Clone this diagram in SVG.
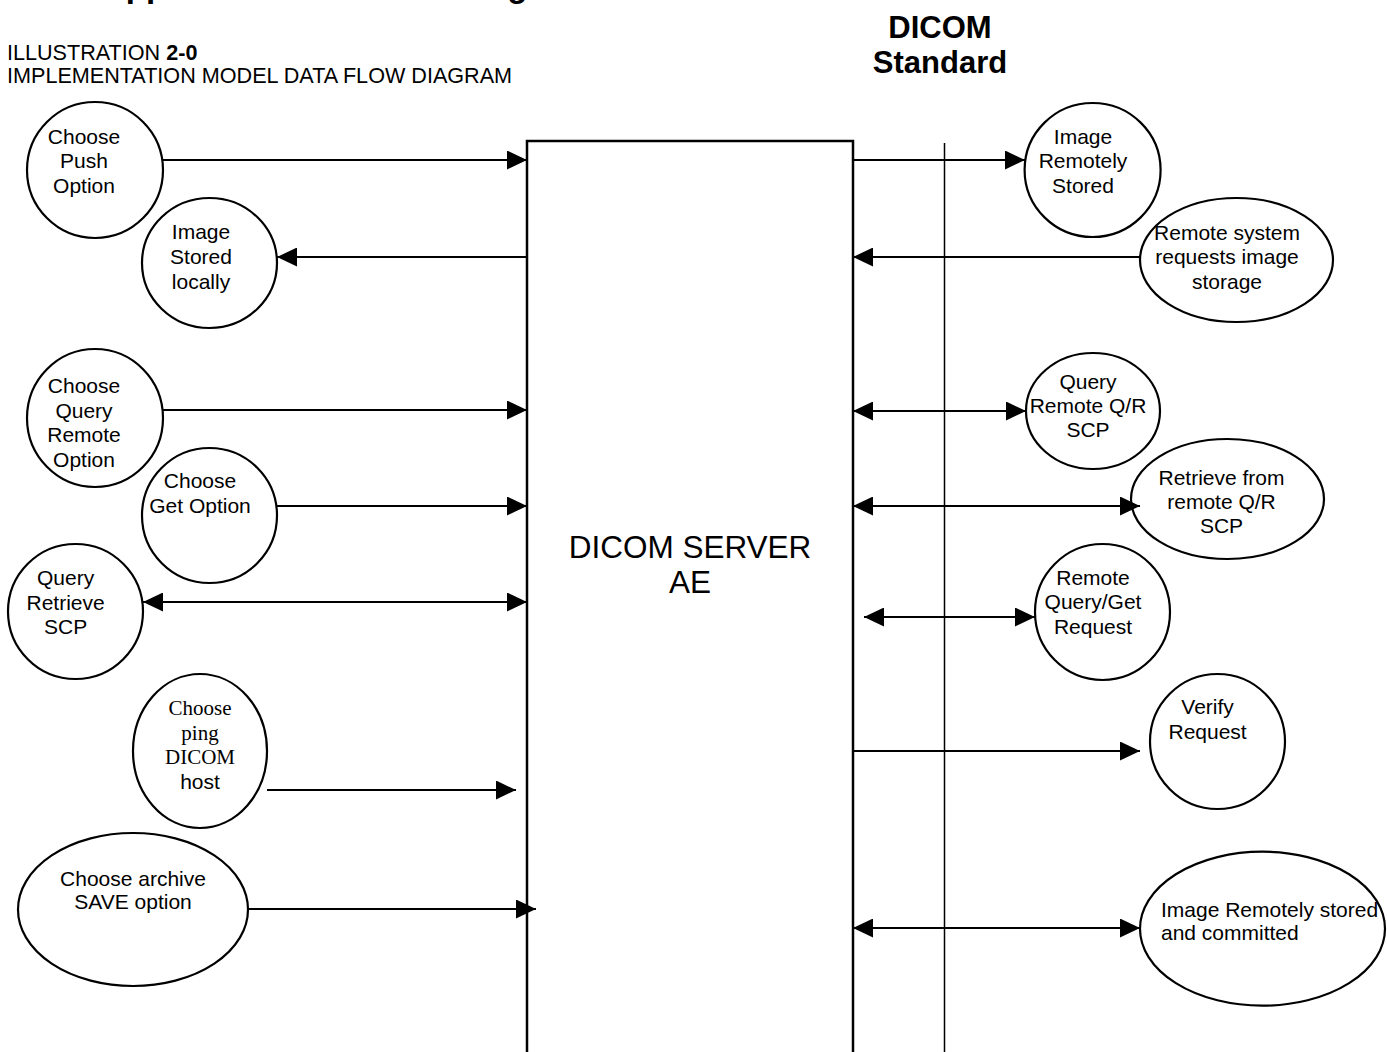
<svg xmlns="http://www.w3.org/2000/svg" width="1387" height="1052" viewBox="0 0 1387 1052">
<style>
.n{fill:#fff;stroke:#000;stroke-width:2.2}
.t{font-family:"Liberation Sans",Arial,sans-serif;font-size:21px;fill:#000}
.s{font-family:"Liberation Serif","Times New Roman",serif;font-size:21px;fill:#000}
.hd{font-family:"Liberation Sans",Arial,sans-serif;font-size:21.6px;fill:#000}
.big{font-family:"Liberation Sans",Arial,sans-serif;font-size:31.5px;fill:#000}
.c line{stroke:#000;stroke-width:2}
.h{font-family:"Liberation Sans",Arial,sans-serif;font-weight:bold;font-size:31px;fill:#000}
.ttl{font-family:"Liberation Sans",Arial,sans-serif;font-weight:bold;font-size:33px;fill:#000}
</style>
<defs>
<marker id="a" markerUnits="userSpaceOnUse" markerWidth="20" markerHeight="19" refX="20" refY="9.5" orient="auto-start-reverse"><path d="M0,0 L20,9.5 L0,19 z" fill="#000"/></marker>
</defs>
<rect width="1387" height="1052" fill="#fff"/>
<text class="ttl" x="102" y="-3">Application Data Flow Diagram</text>
<text class="hd" x="7" y="60">ILLUSTRATION <tspan font-weight="bold">2-0</tspan></text>
<text class="hd" x="7" y="83">IMPLEMENTATION MODEL DATA FLOW DIAGRAM</text>
<text class="h" x="940" y="37.5" text-anchor="middle">DICOM</text>
<text class="h" x="940" y="73" text-anchor="middle">Standard</text>
<g id="server"><rect x="527" y="141" width="326" height="930" fill="#fff" stroke="#000" stroke-width="2.5"/>
<text class="big" x="690" y="558" text-anchor="middle">DICOM SERVER</text>
<text class="big" x="690" y="593" text-anchor="middle">AE</text></g>
<line x1="944.5" y1="143" x2="944.5" y2="1052" stroke="#000" stroke-width="1.5"/>
<g id="n1"><ellipse class="n" cx="95" cy="170" rx="68" ry="68"/><text class="t" text-anchor="middle"><tspan x="84" y="143.5">Choose</tspan><tspan x="84" y="168">Push</tspan><tspan x="84" y="192.5">Option</tspan></text></g>
<g id="n2"><ellipse class="n" cx="209.5" cy="263" rx="67.5" ry="65"/><text class="t" text-anchor="middle"><tspan x="201" y="239">Image</tspan><tspan x="201" y="264">Stored</tspan><tspan x="201" y="289">locally</tspan></text></g>
<g id="n3"><ellipse class="n" cx="95" cy="418" rx="68" ry="69"/><text class="t" text-anchor="middle"><tspan x="84" y="392.5">Choose</tspan><tspan x="84" y="417.5">Query</tspan><tspan x="84" y="442">Remote</tspan><tspan x="84" y="466.5">Option</tspan></text></g>
<g id="n4"><ellipse class="n" cx="209.5" cy="515.5" rx="67.5" ry="67.5"/><text class="t" text-anchor="middle"><tspan x="200" y="488">Choose</tspan><tspan x="200" y="513">Get Option</tspan></text></g>
<g id="n5"><ellipse class="n" cx="75.5" cy="611.5" rx="67.5" ry="67.5"/><text class="t" text-anchor="middle"><tspan x="65.6" y="584.5">Query</tspan><tspan x="65.6" y="609.5">Retrieve</tspan><tspan x="65.6" y="633.5">SCP</tspan></text></g>
<g id="n6"><ellipse class="n" cx="200" cy="751" rx="67" ry="77"/><text class="s" text-anchor="middle"><tspan x="200" y="715">Choose</tspan><tspan x="200" y="739.5">ping</tspan><tspan x="200" y="764">DICOM</tspan></text><text class="t" text-anchor="middle" x="200" y="788.5">host</text></g>
<g id="n7"><ellipse class="n" cx="133" cy="909.5" rx="115" ry="76.5"/><text class="t" text-anchor="middle"><tspan x="133" y="885.5">Choose archive</tspan><tspan x="133" y="909">SAVE option</tspan></text></g>
<g id="r1"><ellipse class="n" cx="1092.6" cy="170" rx="68" ry="67"/><text class="t" text-anchor="middle"><tspan x="1083" y="143.5">Image</tspan><tspan x="1083" y="168">Remotely</tspan><tspan x="1083" y="192.5">Stored</tspan></text></g>
<g id="r2"><ellipse class="n" cx="1236.5" cy="260" rx="96.5" ry="62"/><text class="t" text-anchor="middle"><tspan x="1227" y="239.5">Remote system</tspan><tspan x="1227" y="264">requests image</tspan><tspan x="1227" y="288.5">storage</tspan></text></g>
<g id="r3"><ellipse class="n" cx="1093" cy="411" rx="67" ry="58"/><text class="t" text-anchor="middle"><tspan x="1088" y="389">Query</tspan><tspan x="1088" y="413">Remote Q/R</tspan><tspan x="1088" y="437">SCP</tspan></text></g>
<g id="r4"><ellipse class="n" cx="1227.5" cy="499" rx="96.5" ry="60"/><text class="t" text-anchor="middle"><tspan x="1221.5" y="484.5">Retrieve from</tspan><tspan x="1221.5" y="508.5">remote Q/R</tspan><tspan x="1221.5" y="532.5">SCP</tspan></text></g>
<g id="r5"><ellipse class="n" cx="1102.5" cy="612" rx="67.5" ry="68"/><text class="t" text-anchor="middle"><tspan x="1093" y="584.5">Remote</tspan><tspan x="1093" y="609">Query/Get</tspan><tspan x="1093" y="634">Request</tspan></text></g>
<g id="r6"><ellipse class="n" cx="1217.5" cy="741.5" rx="67.5" ry="67.5"/><text class="t" text-anchor="middle"><tspan x="1207.6" y="714">Verify</tspan><tspan x="1207.6" y="739">Request</tspan></text></g>
<g id="r7"><ellipse class="n" cx="1262.5" cy="928.7" rx="122.5" ry="77"/><text class="t"><tspan x="1161" y="917">Image Remotely stored</tspan><tspan x="1161" y="940">and committed</tspan></text></g>
<g id="connectors" class="c">
<line x1="163" y1="160" x2="527" y2="160" marker-end="url(#a)"/>
<line x1="527" y1="257" x2="277" y2="257" marker-end="url(#a)"/>
<line x1="163" y1="410" x2="527" y2="410" marker-end="url(#a)"/>
<line x1="277" y1="506" x2="527" y2="506" marker-end="url(#a)"/>
<line x1="143" y1="602" x2="527" y2="602" marker-start="url(#a)" marker-end="url(#a)"/>
<line x1="267" y1="790" x2="516" y2="790" marker-end="url(#a)"/>
<line x1="248" y1="909" x2="536" y2="909" marker-end="url(#a)"/>
<line x1="853" y1="160" x2="1025" y2="160" marker-end="url(#a)"/>
<line x1="1140" y1="257" x2="853" y2="257" marker-end="url(#a)"/>
<line x1="853" y1="411" x2="1026" y2="411" marker-start="url(#a)" marker-end="url(#a)"/>
<line x1="853" y1="506" x2="1140" y2="506" marker-start="url(#a)" marker-end="url(#a)"/>
<line x1="864" y1="617" x2="1035" y2="617" marker-start="url(#a)" marker-end="url(#a)"/>
<line x1="853" y1="751" x2="1140" y2="751" marker-end="url(#a)"/>
<line x1="853" y1="928" x2="1140" y2="928" marker-start="url(#a)" marker-end="url(#a)"/>
</g>
</svg>
